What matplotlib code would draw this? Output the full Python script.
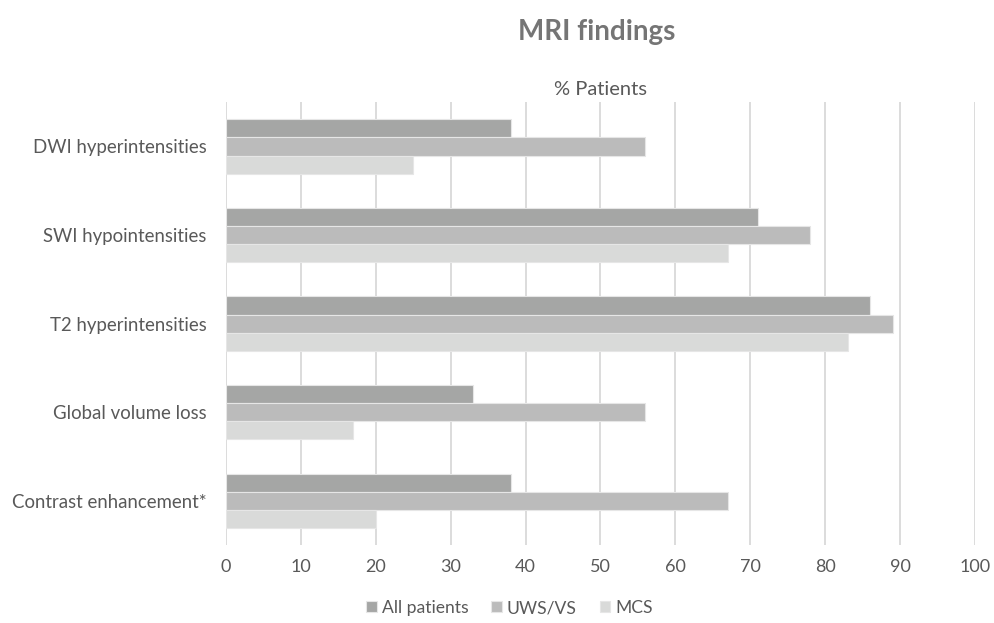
import numpy as np
import matplotlib.pyplot as plt

plt.rcParams['font.family'] = ['Lato', 'DejaVu Sans']

categories = ["DWI hyperintensities", "SWI hypointensities", "T2 hyperintensities",
              "Global volume loss", "Contrast enhancement*"]
all_patients = [38, 71, 86, 33, 38]
uws_vs = [56, 78, 89, 56, 67]
mcs = [25, 67, 83, 17, 20]

series = [("All patients", all_patients, "#A5A6A5"),
          ("UWS/VS", uws_vs, "#BBBBBB"),
          ("MCS", mcs, "#D9DAD9")]

fig = plt.figure(figsize=(9.95, 6.23), dpi=100)
ax = fig.add_axes([0.227, 0.125, 0.753, 0.711])

y = np.arange(len(categories))
h = 0.205
for i, (name, vals, col) in enumerate(series):
    ax.barh(y + (i - 1) * h, vals, height=h, color=col, label=name,
            edgecolor="#E6E6E6", linewidth=0.8, zorder=3)

ax.set_ylim(len(categories) - 0.5, -0.5)
ax.set_xlim(0, 100)
ax.set_xticks(range(0, 101, 10))
ax.set_yticks(y)
ax.set_yticklabels(categories)
ax.tick_params(axis='x', length=0, labelsize=13, colors="#595959", pad=10)
ax.tick_params(axis='y', length=0, labelsize=13.4, colors="#595959", pad=14)
ax.grid(axis='x', color="#D9D9D9", linewidth=1.3, zorder=0)
for s in ax.spines.values():
    s.set_visible(False)

ax.set_title("% Patients", fontsize=14.5, color="#595959", pad=5)
fig.text(0.6, 0.948, "MRI findings", ha='center', va='center', fontsize=20,
         fontweight='bold', color="#757575")

leg = fig.legend(loc='center', bbox_to_anchor=(0.512, 0.024), ncol=3, frameon=False,
                 fontsize=12.6, handlelength=0.6, handleheight=0.6, handletextpad=0.3,
                 columnspacing=1.3)
for t in leg.get_texts():
    t.set_color("#595959")

fig.savefig("out.png", dpi=100)
